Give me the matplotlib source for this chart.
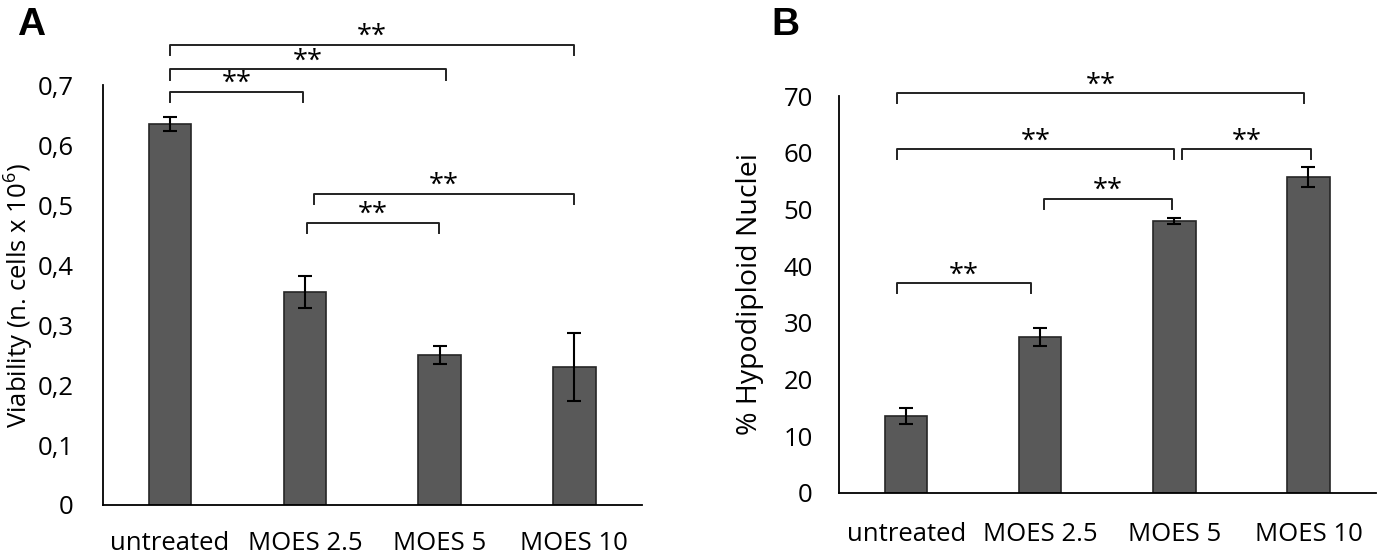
import matplotlib
matplotlib.use("Agg")
import matplotlib.pyplot as plt
from matplotlib.ticker import FuncFormatter

plt.rcParams["font.family"] = ["Open Sans", "DejaVu Sans"]
plt.rcParams["mathtext.fontset"] = "custom"
plt.rcParams["mathtext.rm"] = "Open Sans"

categories = ["untreated", "MOES 2.5", "MOES 5", "MOES 10"]

# panel A: viability (n. cells x 10^6)
viab_mean = [0.635, 0.355, 0.250, 0.230]
viab_err = [0.012, 0.026, 0.015, 0.057]
# (x_left, x_right, height)
viab_sig = [(0.0, 3.0, 0.767), (0.0, 2.05, 0.726), (0.0, 0.985, 0.689),
            (1.07, 3.0, 0.519), (1.016, 1.996, 0.4705)]

# panel B: % hypodiploid nuclei
hypo_mean = [13.6, 27.5, 48.0, 55.7]
hypo_err = [1.4, 1.65, 0.5, 1.7]
hypo_sig = [(-0.067, 2.97, 70.5), (-0.067, 2.0, 60.6), (2.06, 3.02, 60.6),
            (1.03, 1.98, 51.9), (-0.067, 0.93, 37.0)]

BAR = "#595959"
EDGE = "#262626"
FS = 18.5

fig = plt.figure(figsize=(13.79, 5.54), dpi=100)
W, H = 1379, 554
axA = fig.add_axes([102.7 / W, 1 - 505 / H, (641.7 - 102.7) / W, 420 / H])
axB = fig.add_axes([839.3 / W, 1 - 493 / H, (1375.5 - 839.3) / W, 397 / H])


def draw(ax, means, errs, sig, ylim, leg, ypad, xpad):
    x = range(len(categories))
    ax.bar(x, means, width=0.315, color=BAR, edgecolor=EDGE, linewidth=1.2,
           zorder=2)
    ax.errorbar(x, means, yerr=errs, fmt="none", ecolor="black",
                elinewidth=1.5, capsize=5, capthick=1.5, zorder=3)
    ax.set_xlim(-0.5, 3.5)
    ax.set_ylim(*ylim)
    ax.set_xticks(list(x))
    ax.set_xticklabels(categories, fontsize=FS)
    for s in ("top", "right"):
        ax.spines[s].set_visible(False)
    for s in ("left", "bottom"):
        ax.spines[s].set_linewidth(1.3)
        ax.spines[s].set_color("black")
    ax.tick_params(axis="both", length=0, labelsize=FS)
    ax.tick_params(axis="y", pad=ypad)
    ax.tick_params(axis="x", pad=xpad)
    for x0, x1, h in sig:
        ax.plot([x0, x0, x1, x1], [h - leg, h, h, h - leg], color="#222222",
                lw=1.4, clip_on=False, solid_joinstyle="round", zorder=4)
        ax.annotate("**", xy=((x0 + x1) / 2, h), xytext=(0, 0.5),
                    textcoords="offset points", ha="center", va="baseline",
                    fontsize=FS + 1, annotation_clip=False)


draw(axA, viab_mean, viab_err, viab_sig, (0, 0.7), 0.0175, 21, 19)
axA.set_yticks([i / 10 for i in range(8)])
axA.yaxis.set_major_formatter(
    FuncFormatter(lambda v, p: "0" if v == 0 else f"{v:.1f}".replace(".", ",")))
axA.set_ylabel("Viability (n. cells x 10$^{6}$)", fontsize=FS)
axA.yaxis.set_label_coords(-0.126, 0.5)

draw(axB, hypo_mean, hypo_err, hypo_sig, (0, 70), 1.75, 19, 21)
axB.set_yticks(range(0, 71, 10))
axB.set_ylabel("% Hypodiploid Nuclei", fontsize=20.5)
axB.yaxis.set_label_coords(-0.14, 0.5)

fig.text(17 / W, 1 - 35 / H, "A", fontsize=28, fontweight="bold",
         family="Liberation Sans")
fig.text(771 / W, 1 - 35 / H, "B", fontsize=28, fontweight="bold",
         family="Liberation Sans")

fig.savefig("out.png", dpi=100)
